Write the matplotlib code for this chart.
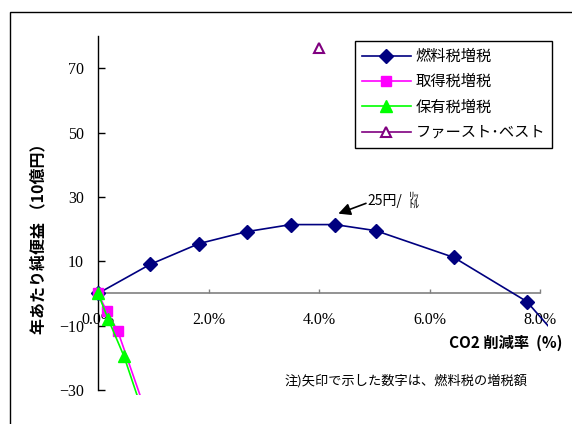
import matplotlib
matplotlib.use('Agg')
import matplotlib.pyplot as plt
from matplotlib.patches import Rectangle
from matplotlib.ticker import FuncFormatter

JP_FONT = ['Noto Sans CJK JP', 'DejaVu Sans']
NUM_FONT = 'Liberation Serif'

# 燃料税増税 (CO2削減率 %, 年あたり純便益)
fuel_x = [0.0, 0.94, 1.83, 2.69, 3.49, 4.29, 5.03, 6.44, 7.76, 8.45]
fuel_y = [0.0, 9.0, 15.5, 19.2, 21.4, 21.4, 19.5, 11.2, -2.5, -16.0]
# 取得税増税
acq_x = [0.0, 0.16, 0.36, 0.90]
acq_y = [0.0, -5.6, -11.8, -38.5]
# 保有税増税
own_x = [0.0, 0.18, 0.47, 0.90]
own_y = [0.0, -7.8, -19.5, -41.5]
# ファースト・ベスト
best_x = [4.0]
best_y = [76.3]

series_labels = ['燃料税増税', '取得税増税', '保有税増税', 'ファースト･ベスト']
y_ticks = [-30, -10, 10, 30, 50, 70]
x_ticks = [0, 2, 4, 6, 8]

W, H = 572, 424
fig = plt.figure(figsize=(W / 100, H / 100), dpi=100)

# 枠線(右と下は画像の外まで)
fig.patches.append(Rectangle((10 / W, -0.2), 2.0, (H - 12) / H + 0.2,
                             transform=fig.transFigure, fill=False,
                             edgecolor='black', linewidth=1.0))

px_per_pct = (540 - 98) / 8.0
px_per_unit = (390 - 36) / 110.0
x0, x1 = -0.15, 8.14
y0, y1 = -31.5, 80
left = 98 + x0 * px_per_pct
width = (x1 - x0) * px_per_pct
bottom = 390 + (-30 - y0) * px_per_unit
height = (y1 - y0) * px_per_unit
ax = fig.add_axes([left / W, (H - bottom) / H, width / W, height / H])
ax.set_xlim(x0, x1)
ax.set_ylim(y0, y1)
ax.patch.set_alpha(0)

ax.plot(fuel_x, fuel_y, color='#000080', lw=1.2, marker='D', ms=7,
        label=series_labels[0], zorder=3)
ax.plot(acq_x, acq_y, color='#FF00FF', lw=1.2, marker='s', ms=7.5,
        label=series_labels[1], zorder=3)
ax.plot(own_x, own_y, color='#00FF00', lw=1.2, marker='^', ms=8,
        label=series_labels[2], zorder=3)
ax.plot(best_x, best_y, color='#800080', lw=1.2, marker='^', ms=7,
        markerfacecolor='white', markeredgewidth=1.5,
        label=series_labels[3], zorder=3)

for s in ['top', 'right']:
    ax.spines[s].set_visible(False)
ax.spines['left'].set_position(('data', 0))
ax.spines['left'].set_bounds(-30, 80)
ax.spines['bottom'].set_position(('data', 0))
ax.spines['bottom'].set_bounds(0, 8)
ax.spines['bottom'].set_color('#808080')
ax.spines['bottom'].set_linewidth(1.2)
ax.spines['left'].set_linewidth(1.0)

ax.set_yticks(y_ticks)
ax.set_xticks(x_ticks)
ax.tick_params(axis='y', direction='in', length=5, width=1, pad=10,
               labelsize=11.5)
ax.tick_params(axis='x', direction='in', length=3, width=1, color='#808080',
               pad=13, labelsize=11.5)
ax.xaxis.set_major_formatter(FuncFormatter(lambda v, p: f'{v:.1f}%'))
for lab in ax.get_xticklabels() + ax.get_yticklabels():
    lab.set_family(NUM_FONT)

fig.text(38 / W, 1 - 235 / H, '年あたり純便益 （10億円）', rotation=90,
         ha='center', va='center', family=JP_FONT, fontsize=11.5,
         fontweight='bold')
fig.text(562 / W, 1 - 343 / H, 'CO2 削減率  (%)', ha='right', va='center',
         family=JP_FONT, fontsize=11, fontweight='bold')
fig.text(285 / W, 1 - 381 / H, '注)矢印で示した数字は、燃料税の増税額',
         ha='left', va='center', family=JP_FONT, fontsize=9.5)

# 燃料税の増税額の注記
ax.annotate('', xy=(4.35, 24.8), xytext=(4.85, 28.0),
            arrowprops=dict(arrowstyle='-|>', color='black', lw=1.2,
                            mutation_scale=18, shrinkA=0, shrinkB=0))
ax.text(4.87, 28.8, '25円/', ha='left', va='center', family=JP_FONT,
        fontsize=10)
ax.text(5.62, 28.8, 'ﾘｯ\nﾄﾙ', ha='left', va='center', family=JP_FONT,
        fontsize=8, linespacing=0.9)

leg = fig.legend(loc='upper left', bbox_to_anchor=(355 / W, 1 - 41 / H),
                 prop={'family': JP_FONT, 'size': 11}, frameon=True,
                 fancybox=False, edgecolor='black', framealpha=1,
                 borderpad=0.45, labelspacing=0.55, handlelength=3.2,
                 handletextpad=0.3, borderaxespad=0)
leg.get_frame().set_linewidth(1.0)

fig.savefig('out.png', dpi=100)
